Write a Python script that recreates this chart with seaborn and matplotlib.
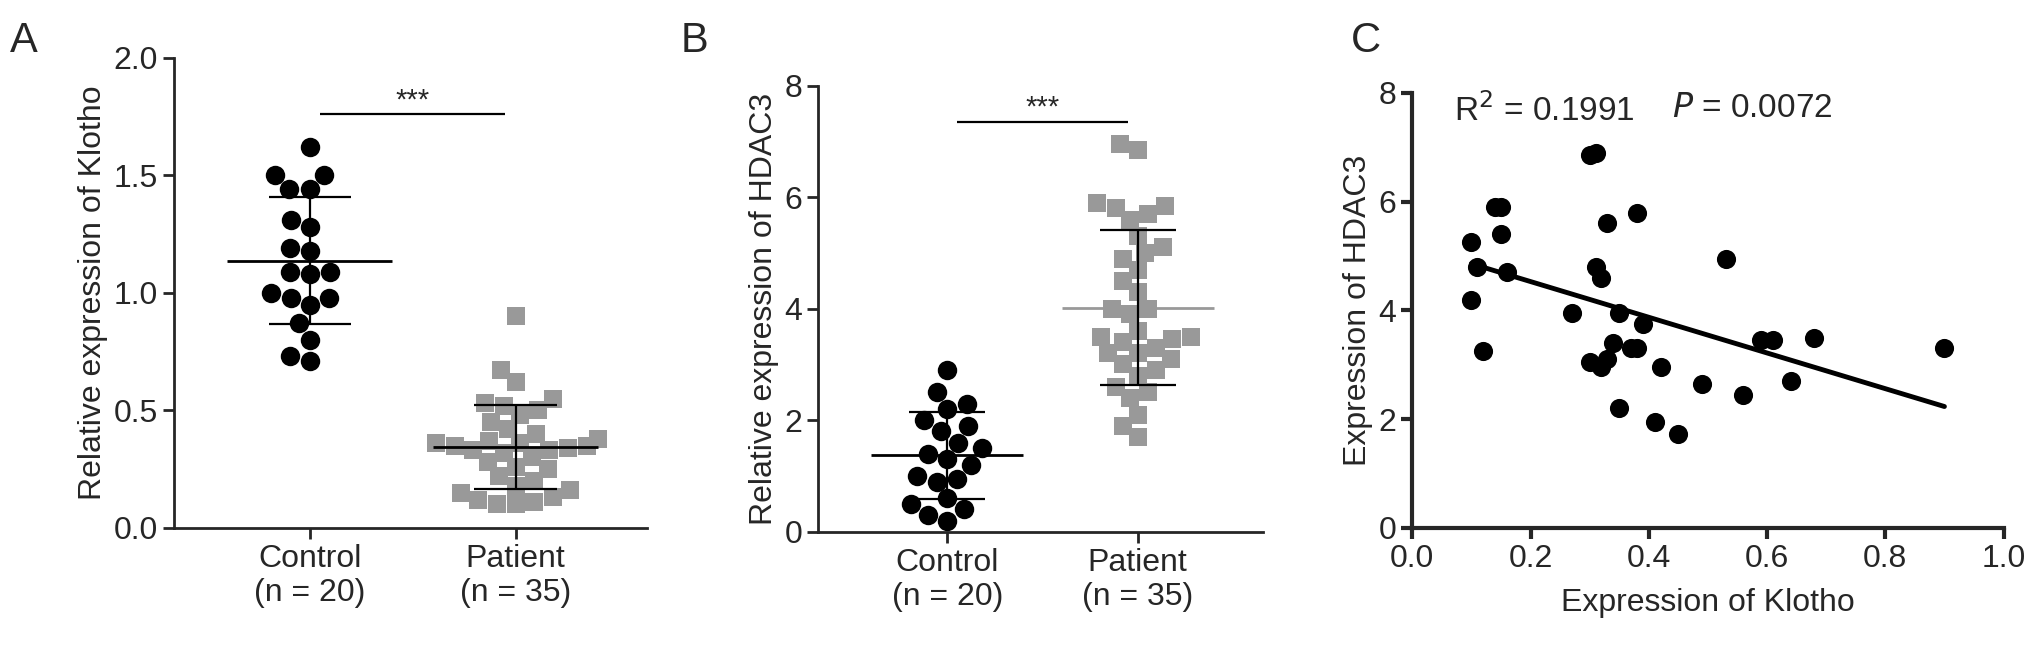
import numpy as np
import pandas as pd
import matplotlib
matplotlib.use("Agg")
import matplotlib.pyplot as plt
import seaborn as sns

# panel A: relative expression of Klotho
klotho_control = [1.50, 0.98, 1.62, 1.50, 1.31, 1.19, 1.08, 0.98, 0.80, 0.71,
                  1.44, 1.28, 1.18, 1.09, 0.95, 0.87, 0.73, 1.44, 1.09, 1.00]
klotho_patient = [0.90, 0.67, 0.62, 0.55, 0.53, 0.52, 0.50, 0.48, 0.45, 0.42,
                  0.40, 0.38, 0.37, 0.36, 0.36, 0.35, 0.35, 0.34, 0.33, 0.33,
                  0.32, 0.30, 0.28, 0.26, 0.25, 0.22, 0.20, 0.18, 0.16, 0.15,
                  0.13, 0.12, 0.11, 0.10, 0.10]
# panel B: relative expression of HDAC3
hdac_control = [2.9, 2.5, 2.3, 2.2, 2.0, 1.9, 1.8, 1.6, 1.5, 1.4,
                1.3, 1.2, 1.0, 0.95, 0.9, 0.6, 0.5, 0.4, 0.3, 0.2]
hdac_patient = [6.95, 6.85, 5.9, 5.85, 5.8, 5.7, 5.6, 5.3, 5.1, 5.0,
                4.9, 4.7, 4.5, 4.3, 4.0, 4.0, 3.9, 3.6, 3.5, 3.5,
                3.45, 3.4, 3.3, 3.2, 3.2, 3.1, 3.0, 2.9, 2.8, 2.6,
                2.5, 2.4, 2.1, 1.9, 1.7]
# panel C: correlation
corr_klotho = [0.10, 0.10, 0.11, 0.12, 0.14, 0.15, 0.15, 0.16, 0.27, 0.30,
               0.31, 0.30, 0.31, 0.32, 0.32, 0.33, 0.33, 0.34, 0.35, 0.35,
               0.37, 0.38, 0.38, 0.39, 0.41, 0.42, 0.45, 0.49, 0.53, 0.56,
               0.59, 0.61, 0.64, 0.68, 0.90]
corr_hdac = [5.25, 4.2, 4.8, 3.25, 5.9, 5.9, 5.4, 4.7, 3.95, 6.85,
             6.9, 3.05, 4.8, 4.6, 2.95, 3.1, 5.6, 3.4, 3.95, 2.2,
             3.3, 3.3, 5.8, 3.75, 1.95, 2.95, 1.72, 2.65, 4.95, 2.45,
             3.45, 3.45, 2.7, 3.5, 3.3]
groups = ["Control\n(n = 20)", "Patient\n(n = 35)"]

sns.set_style("ticks")
plt.rcParams['font.family'] = ['Liberation Sans', 'DejaVu Sans']
FS = 23

fig = plt.figure(figsize=(20.32, 6.5), dpi=100)
axA = fig.add_axes([0.0856, 0.188, 0.233, 0.723])
axB = fig.add_axes([0.4026, 0.182, 0.219, 0.686])
axC = fig.add_axes([0.695, 0.188, 0.291, 0.669])


def dot_panel(ax, ctrl, pat, ylim, yticks, ylabel, sig_y, xlim, pat_mean_color):
    df = pd.DataFrame({"group": [groups[0]] * len(ctrl) + [groups[1]] * len(pat),
                       "value": ctrl + pat})
    sns.swarmplot(data=df[df.group == groups[0]], x="group", y="value", order=groups,
                  color="black", marker="o", size=14, ax=ax)
    sns.swarmplot(data=df[df.group == groups[1]], x="group", y="value", order=groups,
                  color="#999999", marker="s", size=13, ax=ax)
    for i, vals in enumerate([ctrl, pat]):
        m, s = np.mean(vals), np.std(vals, ddof=1)
        ax.hlines(m, i - 0.4, i + 0.4, color="black" if i == 0 else pat_mean_color, lw=2, zorder=5)
        ax.vlines(i, m - s, m + s, color="black", lw=1.6, zorder=5)
        ax.hlines([m - s, m + s], i - 0.2, i + 0.2, color="black", lw=1.6, zorder=5)
    ax.hlines(sig_y, 0.05, 0.95, color="black", lw=1.6)
    ax.text(0.5, sig_y, "***", ha="center", va="bottom", fontsize=FS - 2)
    ax.set_xlim(*xlim)
    ax.set_ylim(*ylim)
    ax.set_yticks(yticks)
    ax.set_xlabel("")
    ax.set_ylabel(ylabel, fontsize=FS)
    sns.despine(ax=ax)
    for sp in ax.spines.values():
        sp.set_linewidth(2)
    ax.tick_params(width=2, length=8, labelsize=FS)


dot_panel(axA, klotho_control, klotho_patient, (0, 2.0), [0, 0.5, 1.0, 1.5, 2.0],
          "Relative expression of Klotho", 1.76, (-0.66, 1.64), "black")
axA.set_yticklabels(["0.0", "0.5", "1.0", "1.5", "2.0"])
dot_panel(axB, hdac_control, hdac_patient, (0, 8), [0, 2, 4, 6, 8],
          "Relative expression of HDAC3", 7.35, (-0.68, 1.66), "#999999")

sns.regplot(x=corr_klotho, y=corr_hdac, ci=None, ax=axC, truncate=True,
            scatter_kws={"s": 190, "color": "black", "linewidths": 0, "alpha": 1},
            line_kws={"color": "black", "lw": 3.5})
axC.set_xlim(0, 1.0)
axC.set_ylim(0, 8)
axC.set_xticks([0, 0.2, 0.4, 0.6, 0.8, 1.0])
axC.set_xticklabels(["0.0", "0.2", "0.4", "0.6", "0.8", "1.0"])
axC.set_yticks([0, 2, 4, 6, 8])
axC.set_xlabel("Expression of Klotho", fontsize=FS, labelpad=10)
axC.set_ylabel("Expression of HDAC3", fontsize=FS)
sns.despine(ax=axC)
for sp in axC.spines.values():
    sp.set_linewidth(3)
axC.tick_params(width=3, length=8, labelsize=FS)
axC.text(0.07, 8.0, "R$^2$ = 0.1991", ha="left", va="top", fontsize=FS + 1)
axC.text(0.44, 8.0, "$\\it{P}$ = 0.0072", ha="left", va="top", fontsize=FS + 1)

fig.text(0.005, 0.92, "A", fontsize=30)
fig.text(0.335, 0.92, "B", fontsize=30)
fig.text(0.665, 0.92, "C", fontsize=30)

fig.savefig("out.png", dpi=100)
